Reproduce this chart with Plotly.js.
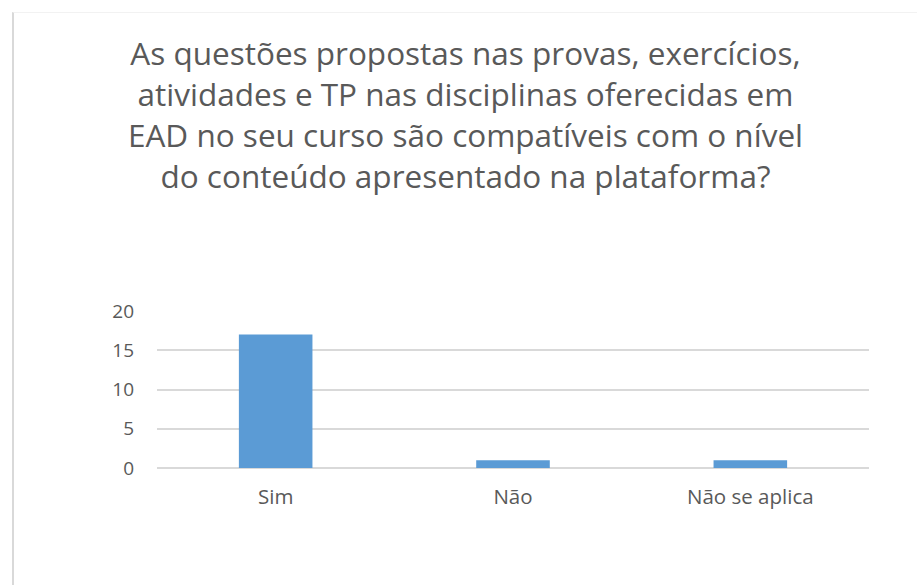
<!DOCTYPE html>
<html>
<head>
<meta charset="utf-8">
<script src="https://cdn.plot.ly/plotly-3.0.1.min.js"></script>
<style>
html,body{margin:0;padding:0;background:#fff;}
#frame{position:absolute;left:12px;top:12px;width:905px;height:573px;border-left:2px solid #d9d9d9;border-top:1px solid #f2f2f2;box-sizing:border-box;}
#chart{width:903px;height:572px;}
</style>
</head>
<body>
<div id="frame"><div id="chart"></div></div>
<script>
const categories = ["Sim", "Não", "Não se aplica"];
const values = [17, 1, 1];
const yTicks = [0, 5, 10, 15, 20];
const titleText = "As questões propostas nas provas, exercícios,<br>atividades e TP nas disciplinas oferecidas em<br>EAD no seu curso são compatíveis com o nível<br>do conteúdo apresentado na plataforma?";

const fontFam = "'Open Sans', sans-serif";
const data = [{
  type: "bar",
  x: categories,
  y: values,
  marker: {color: "#5b9bd5"},
  hoverinfo: "x+y"
}];
const layout = {
  width: 903, height: 572,
  margin: {l: 143, r: 48, t: 298, b: 117},
  paper_bgcolor: "#ffffff",
  plot_bgcolor: "#ffffff",
  bargap: 0.69,
  showlegend: false,
  title: {
    text: titleText,
    font: {family: fontFam, size: 31.5, color: "#595959"},
    x: 0.5, xanchor: "center",
    y: 1 - 52 / 572, yanchor: "top"
  },
  xaxis: {
    showgrid: false, showline: false, zeroline: false,
    ticks: "", tickfont: {family: fontFam, size: 20.5, color: "#595959"},
    ticklabelstandoff: 14
  },
  yaxis: {
    range: [0, 20], tickvals: yTicks,
    showgrid: true, gridcolor: "#d9d9d9", gridwidth: 2,
    zeroline: true, zerolinecolor: "#d9d9d9", zerolinewidth: 2,
    showline: false, ticks: "",
    tickfont: {family: fontFam, size: 19, color: "#595959"},
    ticklabelstandoff: 22
  }
};
Plotly.newPlot("chart", data, layout, {displayModeBar: false, staticPlot: true});
</script>
</body>
</html>
